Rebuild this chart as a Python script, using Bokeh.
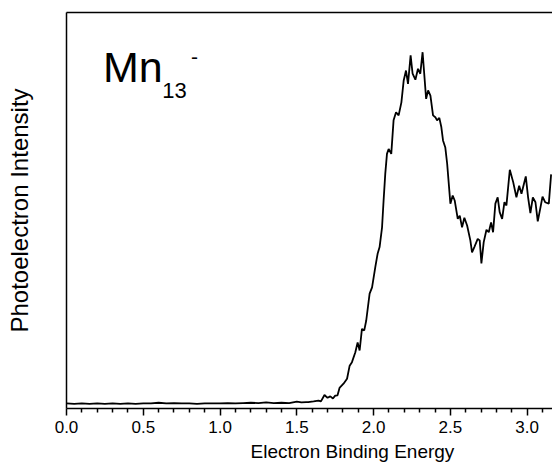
from bokeh.plotting import figure
from bokeh.models import Range1d, LinearAxis, FixedTicker, Label, Title
from bokeh.embed import file_html
from bokeh.resources import INLINE

# ---- data ----
energy = [0.00, 0.05, 0.10, 0.15, 0.20, 0.25, 0.30, 0.35, 0.40, 0.45,
          0.50, 0.55, 0.60, 0.65, 0.70, 0.75, 0.80, 0.85, 0.90, 0.95,
          1.00, 1.05, 1.10, 1.15, 1.20, 1.25, 1.30, 1.35, 1.40, 1.45,
          1.50, 1.53, 1.56, 1.574, 1.609, 1.641, 1.657, 1.680, 1.700, 1.718,
          1.735, 1.750, 1.765, 1.778, 1.804, 1.827, 1.844, 1.859, 1.881, 1.896,
          1.909, 1.924, 1.939, 1.952, 1.974, 1.990, 2.011, 2.026, 2.039, 2.055,
          2.065, 2.076, 2.087, 2.098, 2.115, 2.130, 2.146, 2.163, 2.181, 2.196,
          2.211, 2.224, 2.241, 2.254, 2.272, 2.289, 2.304, 2.319, 2.342, 2.355,
          2.370, 2.387, 2.402, 2.413, 2.428, 2.441, 2.452, 2.467, 2.479, 2.500,
          2.515, 2.528, 2.548, 2.561, 2.576, 2.591, 2.609, 2.630, 2.641, 2.656,
          2.678, 2.691, 2.702, 2.717, 2.735, 2.750, 2.765, 2.778, 2.793, 2.808,
          2.821, 2.837, 2.852, 2.865, 2.887, 2.909, 2.930, 2.948, 2.963, 2.991,
          3.006, 3.021, 3.037, 3.054, 3.069, 3.087, 3.100, 3.117, 3.141, 3.156]
intensity = [0.003, 0.002, 0.003, 0.002, 0.003, 0.002, 0.003, 0.002, 0.003, 0.002,
             0.003, 0.003, 0.005, 0.003, 0.004, 0.003, 0.003, 0.002, 0.003, 0.003,
             0.003, 0.004, 0.003, 0.004, 0.005, 0.004, 0.006, 0.004, 0.005, 0.004,
             0.008, 0.006, 0.007, 0.007, 0.009, 0.011, 0.009, 0.027, 0.019, 0.023,
             0.017, 0.025, 0.026, 0.047, 0.059, 0.073, 0.110, 0.120, 0.148, 0.176,
             0.153, 0.214, 0.210, 0.238, 0.314, 0.332, 0.389, 0.427, 0.446, 0.502,
             0.578, 0.654, 0.710, 0.724, 0.710, 0.805, 0.828, 0.819, 0.856, 0.918,
             0.946, 0.908, 0.989, 0.937, 0.920, 0.951, 0.937, 0.998, 0.866, 0.890,
             0.875, 0.819, 0.814, 0.805, 0.812, 0.786, 0.748, 0.728, 0.682, 0.569,
             0.592, 0.578, 0.526, 0.535, 0.502, 0.529, 0.507, 0.465, 0.431, 0.446,
             0.469, 0.465, 0.400, 0.460, 0.495, 0.488, 0.516, 0.488, 0.569, 0.587,
             0.545, 0.526, 0.573, 0.564, 0.665, 0.630, 0.587, 0.620, 0.597, 0.646,
             0.587, 0.542, 0.587, 0.573, 0.519, 0.559, 0.589, 0.573, 0.569, 0.652]

x_major_ticks = [0.0, 0.5, 1.0, 1.5, 2.0, 2.5, 3.0]
x_tick_labels = ["0.0", "0.5", "1.0", "1.5", "2.0", "2.5", "3.0"]
x_minor_ticks = [round(i * 0.1, 1) for i in range(32) if i % 5 != 0]
x_title = "Electron Binding Energy"
y_title = "Photoelectron Intensity"

FONT = "Liberation Sans"

p = figure(width=552, height=468,
           x_range=Range1d(0, 3.165), y_range=Range1d(-0.0113, 1.1105),
           output_backend="svg", toolbar_location=None,
           min_border_left=66, min_border_right=0,
           min_border_top=12, min_border_bottom=60)
p.outline_line_color = None
p.background_fill_color = "white"
p.border_fill_color = "white"
p.xgrid.visible = False
p.ygrid.visible = False

p.line(energy, intensity, line_color="black", line_width=1.8)

# x axis
xa = p.xaxis[0]
xa.ticker = FixedTicker(ticks=x_major_ticks, minor_ticks=x_minor_ticks)
xa.major_label_overrides = {t: l for t, l in zip(x_major_ticks, x_tick_labels)}
xa.axis_line_width = 1.5
xa.axis_line_color = "black"
xa.major_tick_in = 0
xa.major_tick_out = 7
xa.minor_tick_in = 0
xa.minor_tick_out = 4
xa.major_tick_line_width = 1.5
xa.minor_tick_line_width = 1.5
xa.major_tick_line_color = "black"
xa.minor_tick_line_color = "black"
xa.major_label_text_font = FONT
xa.major_label_text_font_size = "17px"
xa.major_label_text_color = "black"
xa.major_label_standoff = 5

# x title: the original frame ran further right, so the title sits right of centre
p.add_layout(Title(text=x_title, align="left", offset=184, text_font=FONT,
                   text_font_size="19px", text_font_style="normal",
                   text_color="black", standoff=6), "below")

# y axis: line and title only
ya = p.yaxis[0]
ya.ticker = FixedTicker(ticks=[])
ya.axis_line_width = 1.5
ya.axis_line_color = "black"
ya.major_tick_line_color = None
ya.minor_tick_line_color = None
ya.axis_label = y_title
ya.axis_label_text_font = FONT
ya.axis_label_text_font_size = "24px"
ya.axis_label_text_font_style = "normal"
ya.axis_label_text_color = "black"
ya.axis_label_standoff = 34

# top border line
top = LinearAxis(ticker=FixedTicker(ticks=[]), axis_line_width=1.5,
                 axis_line_color="black", major_tick_line_color=None,
                 minor_tick_line_color=None, major_label_text_font_size="0px")
p.add_layout(top, "above")

# species annotation
p.add_layout(Label(x=0.238, y=0.957, text="Mn", text_font=FONT,
                   text_font_size="43px", text_color="black",
                   text_align="left", text_baseline="alphabetic"))
p.add_layout(Label(x=0.623, y=0.890, text="13", text_font=FONT,
                   text_font_size="22px", text_color="black",
                   text_align="left", text_baseline="alphabetic"))
p.add_layout(Label(x=0.810, y=0.985, text="-", text_font=FONT,
                   text_font_size="21px", text_color="black",
                   text_align="left", text_baseline="alphabetic"))

open("out.html", "w").write(file_html(p, INLINE))
